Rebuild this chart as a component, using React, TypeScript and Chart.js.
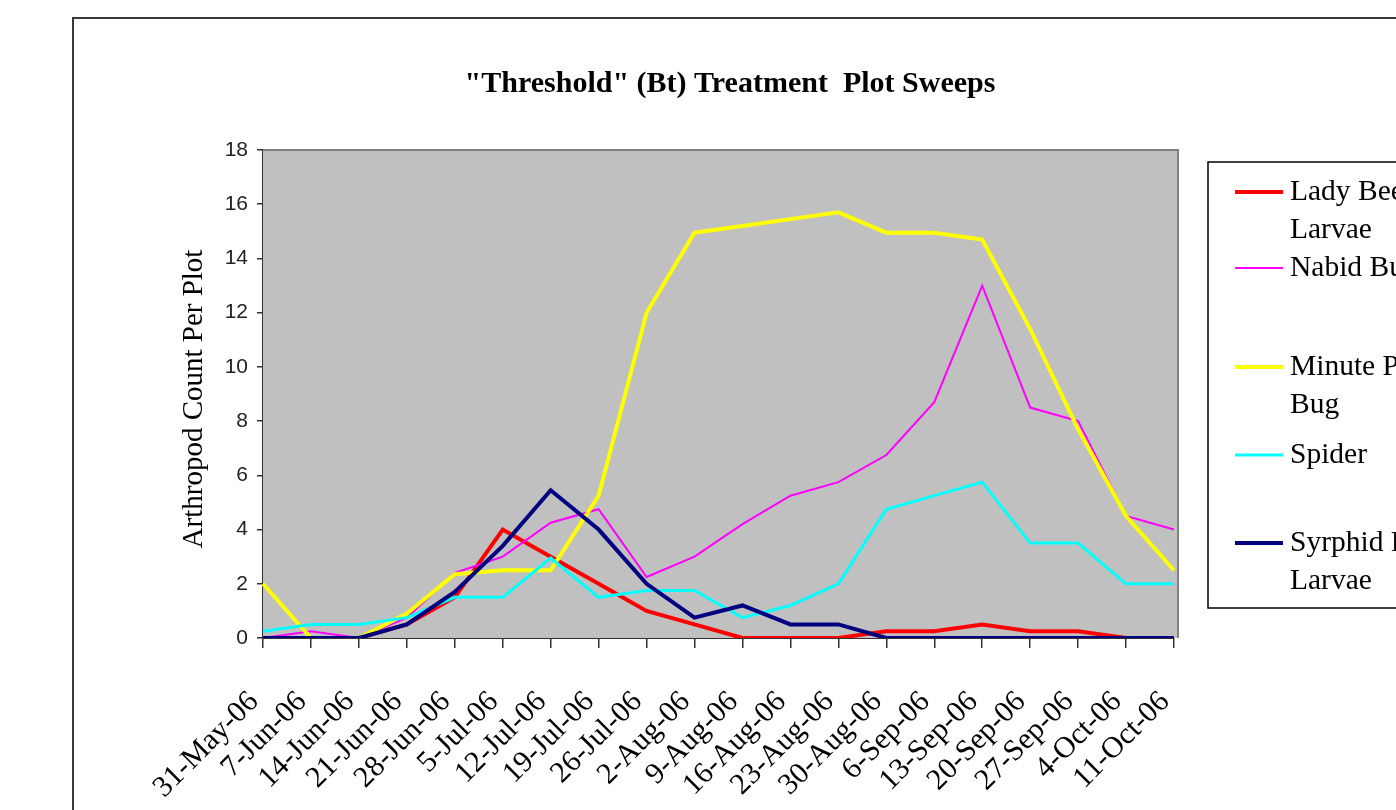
import React, { useEffect, useRef } from 'react';
import { Chart, registerables } from 'chart.js';

Chart.register(...registerables);

// Sampling dates (weekly sweeps, 2006 season)
const sweepDates = [
  '31-May-06', '7-Jun-06', '14-Jun-06', '21-Jun-06', '28-Jun-06', '5-Jul-06',
  '12-Jul-06', '19-Jul-06', '26-Jul-06', '2-Aug-06', '9-Aug-06', '16-Aug-06',
  '23-Aug-06', '30-Aug-06', '6-Sep-06', '13-Sep-06', '20-Sep-06', '27-Sep-06',
  '4-Oct-06', '11-Oct-06',
];

// Mean arthropod count per plot, one array per taxon
const ladyBeetleLarvae = [0, 0, 0, 0.5, 1.5, 4, 3, 2, 1, 0.5, 0, 0, 0, 0.25, 0.25, 0.5, 0.25, 0.25, 0, 0];
const nabidBug = [0, 0.25, 0, 0.75, 2.4, 3, 4.25, 4.75, 2.25, 3, 4.2, 5.25, 5.75, 6.75, 8.7, 13, 8.5, 8, 4.5, 4];
const minutePirateBug = [2, 0, 0, 0.9, 2.35, 2.5, 2.5, 5.25, 12, 14.95, 15.2, 15.45, 15.7, 14.95, 14.95, 14.7, 11.4, 7.7, 4.5, 2.5];
const spider = [0.25, 0.5, 0.5, 0.75, 1.5, 1.5, 2.95, 1.5, 1.75, 1.75, 0.75, 1.2, 2, 4.75, 5.25, 5.75, 3.5, 3.5, 2, 2];
const syrphidFlyLarvae = [0, 0, 0, 0.5, 1.7, 3.4, 5.45, 4, 2, 0.75, 1.2, 0.5, 0.5, 0, 0, 0, 0, 0, 0, 0];

// Legend text, wrapped the way the legend box shows it
const legendNames = [
  ['Lady Beetle', 'Larvae'],
  ['Nabid Bug'],
  ['Minute Pirate', 'Bug'],
  ['Spider'],
  ['Syrphid Fly', 'Larvae'],
];

const chartTitle = '"Threshold" (Bt) Treatment  Plot Sweeps';
const yAxisTitle = 'Arthropod Count Per Plot';
const yMin = 0;
const yMax = 18;
const yStep = 2;

const W = 1396;
const H = 810;
const SERIF = '"Liberation Serif", "Times New Roman", serif';
const SANS = '"Liberation Sans", Arial, sans-serif';

const seriesStyle = [
  { color: '#FF0000', width: 4 },
  { color: '#FF00FF', width: 2 },
  { color: '#FFFF00', width: 4 },
  { color: '#00FFFF', width: 3 },
  { color: '#000080', width: 4 },
];

const seriesData = [ladyBeetleLarvae, nabidBug, minutePirateBug, spider, syrphidFlyLarvae];

// Grey plot area, frame, title, axis title and the boxed legend
const decorPlugin = {
  id: 'decor',
  beforeDraw(chart: any) {
    const { ctx } = chart;
    ctx.save();
    ctx.fillStyle = '#FFFFFF';
    ctx.fillRect(0, 0, W, H);
    ctx.restore();
  },
  beforeDatasetsDraw(chart: any) {
    const { ctx, chartArea } = chart;
    const { left, top, right, bottom } = chartArea;
    ctx.save();
    ctx.fillStyle = '#C0C0C0';
    ctx.fillRect(left, top, right + 4 - left, bottom - top);
    ctx.strokeStyle = '#808080';
    ctx.lineWidth = 2;
    ctx.beginPath();
    ctx.moveTo(left, top);
    ctx.lineTo(right + 4, top);
    ctx.lineTo(right + 4, bottom);
    ctx.stroke();
    ctx.restore();
  },
  afterDraw(chart: any) {
    const { ctx } = chart;
    ctx.save();

    // outer chart frame
    ctx.strokeStyle = '#3a3a3a';
    ctx.lineWidth = 2;
    ctx.strokeRect(73, 18, 2000, 2000);

    // title
    ctx.fillStyle = '#000';
    ctx.font = `bold 30px ${SERIF}`;
    ctx.textAlign = 'center';
    ctx.textBaseline = 'middle';
    ctx.fillText(chartTitle, 730, 84);

    // y-axis title
    ctx.save();
    ctx.translate(194, 399);
    ctx.rotate(-Math.PI / 2);
    ctx.font = `29px ${SERIF}`;
    ctx.fillText(yAxisTitle, 0, 0);
    ctx.restore();

    // legend
    const rowY = [192, 268, 367, 455, 543];
    const lineGap = 38;
    ctx.strokeStyle = '#000';
    ctx.lineWidth = 1.5;
    ctx.strokeRect(1208, 162, 400, 446);
    ctx.font = `29.5px ${SERIF}`;
    ctx.textAlign = 'left';
    ctx.textBaseline = 'middle';
    legendNames.forEach((lines, i) => {
      const y = rowY[i];
      ctx.strokeStyle = seriesStyle[i].color;
      ctx.lineWidth = seriesStyle[i].width;
      ctx.beginPath();
      ctx.moveTo(1235, y);
      ctx.lineTo(1283, y);
      ctx.stroke();
      ctx.fillStyle = '#000';
      lines.forEach((t, k) => ctx.fillText(t, 1290, y + k * lineGap));
    });

    ctx.restore();
  },
};

export default function App() {
  const canvasRef = useRef<HTMLCanvasElement | null>(null);

  useEffect(() => {
    const canvas = canvasRef.current;
    if (!canvas) return;
    const n = seriesData.length;
    const chart = new Chart(canvas, {
      type: 'line',
      data: {
        labels: sweepDates,
        datasets: seriesData.map((d, i) => ({
          label: legendNames[i].join(' '),
          data: d,
          borderColor: seriesStyle[i].color,
          backgroundColor: seriesStyle[i].color,
          borderWidth: seriesStyle[i].width,
          pointRadius: 0,
          tension: 0,
          fill: false,
          order: n - i,
        })),
      },
      options: {
        responsive: false,
        animation: false,
        devicePixelRatio: 1,
        layout: { padding: { left: 0, right: W - 1174, top: 150, bottom: 0 } },
        plugins: {
          legend: { display: false },
          title: { display: false },
          tooltip: { enabled: false },
        },
        scales: {
          x: {
            type: 'category',
            offset: false,
            grid: {
              display: true,
              drawOnChartArea: false,
              drawTicks: true,
              tickLength: 10,
              color: '#333',
              lineWidth: 1.5,
            },
            border: { display: true, color: '#333', width: 2 },
            ticks: {
              autoSkip: false,
              minRotation: 45,
              maxRotation: 45,
              padding: 46,
              labelOffset: -9,
              color: '#000',
              font: { family: SERIF, size: 30, lineHeight: 0.3 },
            },
            afterFit: (s: any) => {
              s.height = H - 638;
            },
          },
          y: {
            min: yMin,
            max: yMax,
            ticks: {
              stepSize: yStep,
              padding: 9,
              color: '#222',
              font: { family: SANS, size: 21 },
            },
            grid: {
              display: true,
              drawOnChartArea: false,
              drawTicks: true,
              tickLength: 6,
              color: '#333',
              lineWidth: 1.5,
            },
            border: { display: true, color: '#333', width: 2 },
            afterFit: (s: any) => {
              s.width = 263;
            },
          },
        },
      },
      plugins: [decorPlugin],
    } as any);
    return () => chart.destroy();
  }, []);

  return (
    <div
      style={{
        position: 'fixed',
        left: 0,
        top: 0,
        width: W,
        height: H,
        overflow: 'hidden',
        background: '#fff',
      }}
    >
      <canvas ref={canvasRef} width={W} height={H} style={{ display: 'block', width: W, height: H }} />
    </div>
  );
}
